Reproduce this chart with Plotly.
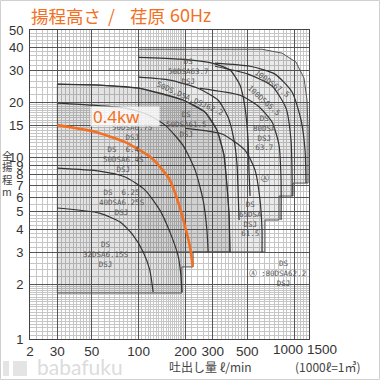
import numpy as np
import plotly.graph_objects as go

# ---------------- axis ticks ----------------
x_tick_vals = [20, 30, 50, 100, 200, 300, 500, 1000]
x_tick_text = ["2", "30", "50", "100", "200", "300", "500", "1000"]
x_extra_label = "1500"
y_tick_vals = [1, 2, 3, 4, 5, 6, 7, 8, 9, 10, 15, 20, 30, 40, 50]
y_tick_text = [str(v) for v in y_tick_vals]
y_title_chars = ["全", "揚", "程", "m"]
title_parts = ["揚程高さ", "/", "荏原", "60Hz"]

# ---------------- highlighted 0.4 kW curve ----------------
kw04_q = [30, 50, 82, 121, 148, 159, 178, 194, 214, 223]
kw04_h = [15, 13.9, 12.1, 9.9, 8.17, 7.47, 5.8, 4.51, 3.21, 2.5]

# ---------------- other pump curves (flow l/min, head m) ----------------
q_32dsa615s = [30, 56, 76, 92, 107, 118, 124]
h_32dsa615s = [5.25, 4.92, 4.40, 3.73, 3.01, 2.39, 1.81]
q_40dsa625 = [30, 56, 82, 110, 137, 159, 179, 187, 190]
h_40dsa625 = [8.7, 8.38, 7.77, 6.59, 5.11, 3.87, 2.89, 2.25, 1.81]
q_50dsa675 = [30, 50, 82, 113, 148, 193, 231, 260, 275, 280]
h_50dsa675 = [19.8, 19.3, 18.6, 17.2, 15.0, 11.6, 8.48, 5.80, 3.97, 3.01]
q_50dsa615 = [30, 56, 102, 193, 267, 319, 354, 370, 382, 387]
h_50dsa615 = [25.2, 24.9, 23.9, 20.6, 17.7, 14.1, 10.3, 7.02, 4.80, 3.01]
q_50ds622 = [100, 159, 241, 324, 376, 411, 430, 436, 443]
h_50ds622 = [27.5, 26.5, 23.9, 20.6, 16.6, 12.4, 9.04, 6.59, 4.51]
q_50dsa637 = [100, 185, 297, 387, 449, 484, 506, 513, 521]
h_50dsa637 = [35.4, 34.6, 32.9, 30.1, 24.9, 18.6, 12.4, 8.48, 6.11]
q_65dsa615 = [199, 344, 484, 561, 604, 622, 622]
h_65dsa615 = [14.4, 13.4, 10.9, 8.48, 5.80, 3.97, 3.01]
q_80dsa637 = [248, 449, 587, 722, 801, 825, 825]
h_80dsa637 = [23.9, 21.9, 19.1, 15.6, 11.6, 7.47, 4.51]
q_100ds655 = [310, 506, 722, 888, 956, 971, 971]
h_100ds655 = [31.6, 28.6, 24.6, 18.6, 12.4, 7.96, 6.11]
q_100ds675 = [310, 521, 754, 971, 1109, 1177, 1194]
h_100ds675 = [32.9, 31.6, 28.6, 22.8, 16.0, 10.9, 7.20]

# ---------------- shaded selection ranges ----------------
upper_range_q = [100, 100, 622, 837, 1030, 1159, 1212, 1230, 1230, 985, 985, 801, 801, 650, 650, 100]
upper_range_h = [3.01, 39.2, 39.2, 37.3, 33.3, 27.2, 20.6, 14.1, 7.20, 7.20, 6.11, 6.11, 4.51, 4.51, 3.01, 3.01]
lower_step_q = [224, 224, 190, 190, 30]
lower_step_h = [3.01, 2.49, 2.49, 1.79, 1.79]
lower_start_h = 1.79

# ---------------- small model labels ----------------
labels_text = ["100DS67.5", "100DS65.5", "50DS,DSA,DSJ62.2",
               "DS<br>50DSA63.7<br>DSJ", "DS<br>50DSA61.5<br>DSJ",
               "DS<br>80DSA<br>DSJ<br>63.7", "DS<br>65DSA<br>DSJ<br>61.5",
               "50DSA6.75<br>DSJ", "DS\u00a0\u00a06.4<br>50DSA6.4S<br>DSJ",
               "DS\u00a0\u00a06.25<br>40DSA6.25S<br>DSJ", "DS<br>32DSA6.15S<br>DSJ",
               "\u24b6", "DS<br>:80DSA62.2<br>DSJ", "\u24b6"]
labels_q = [722, 641, 214, 208, 202, 650, 521, 90.7, 79.4, 78.2, 61.7, 650, 850, 545]
labels_h = [25.5, 20.6, 21.1, 29.7, 15.2, 13.5, 4.56, 13.6, 9.75, 5.66, 2.93, 7.67, 2.28, 2.28]
labels_angle = [36, 42, 24, 0, 0, 0, 0, 0, 0, 0, 0, 0, 0, 0]

kw_label = "0.4kw"
kw_label_q, kw_label_h = 81.7, 16.8

ORANGE = "#f36f21"
CURVE = "#333333"

# pixel layout helpers (figure 380x380, plot area x 30..309, y 30..339)
PL, PW, PB, PH = 30, 279, 339, 309


def px(xp):
    return (xp - PL) / PW


def py(yp):
    return (PB - yp) / PH


def fine_vals(lo, hi):
    m = np.concatenate([np.arange(1.05, 2.0, 0.05), np.arange(2.2, 5.0, 0.2),
                        np.arange(5.5, 10.0, 0.5), [1.0]])
    vals = []
    for e in range(-1, 4):
        vals.extend((m * 10.0 ** e).tolist())
    return sorted(v for v in vals if lo <= v <= hi)


fig = go.Figure()

# shaded ranges
fig.add_trace(go.Scatter(x=upper_range_q, y=upper_range_h, mode="lines", fill="toself",
                         fillcolor="rgba(60,60,60,0.11)", line=dict(color="#555", width=1),
                         hoverinfo="skip"))
lower_q = [30] + q_50dsa615 + lower_step_q
lower_h = [lower_start_h] + h_50dsa615 + lower_step_h
fig.add_trace(go.Scatter(x=lower_q, y=lower_h, mode="lines", fill="toself",
                         fillcolor="rgba(60,60,60,0.14)", line=dict(color="#555", width=1),
                         hoverinfo="skip"))

curves = [(q_32dsa615s, h_32dsa615s), (q_40dsa625, h_40dsa625), (q_50dsa675, h_50dsa675),
          (q_50dsa615, h_50dsa615), (q_50ds622, h_50ds622), (q_50dsa637, h_50dsa637),
          (q_65dsa615, h_65dsa615), (q_80dsa637, h_80dsa637), (q_100ds655, h_100ds655),
          (q_100ds675, h_100ds675)]
for q, h in curves:
    fig.add_trace(go.Scatter(x=q, y=h, mode="lines",
                             line=dict(color=CURVE, width=1.2, shape="spline", smoothing=0.6),
                             hoverinfo="skip"))

fig.add_trace(go.Scatter(x=kw04_q, y=kw04_h, mode="lines",
                         line=dict(color=ORANGE, width=2.6, shape="spline", smoothing=0.6),
                         hoverinfo="skip"))

# annotations
ann = []
for t, q, h, a in zip(labels_text, labels_q, labels_h, labels_angle):
    ann.append(dict(x=np.log10(q), y=np.log10(h), xref="x", yref="y", text=t, showarrow=False,
                    textangle=a, font=dict(family="DejaVu Sans Mono", size=7.5, color="#555")))
ann.append(dict(x=np.log10(kw_label_q), y=np.log10(kw_label_h), xref="x", yref="y", text=kw_label,
                showarrow=False, width=64, height=15, borderpad=2, align="left",
                bgcolor="rgba(255,255,255,0.8)",
                font=dict(family="Noto Sans", size=17, color=ORANGE)))

# title pieces
title_x = [29, 111, 128, 168]
title_anchor = ["left", "center", "left", "left"]
title_font = ["Noto Sans CJK JP", "Noto Sans CJK JP", "Noto Sans CJK JP", "Noto Sans"]
for t, xp, xa, ff in zip(title_parts, title_x, title_anchor, title_font):
    ann.append(dict(x=px(xp), y=py(15), xref="paper", yref="paper", xanchor=xa, yanchor="middle",
                    text=t, showarrow=False, font=dict(family=ff, size=17.5, color=ORANGE)))

# vertical y-axis title
for ch, yp in zip(y_title_chars, [155, 167, 179, 191]):
    ann.append(dict(x=px(7), y=py(yp), xref="paper", yref="paper", xanchor="center", yanchor="middle",
                    text=ch, showarrow=False,
                    font=dict(family="Noto Sans CJK JP", size=10.5, color="#444")))

ann.append(dict(x=px(210), y=py(366), xref="paper", yref="paper", xanchor="center", yanchor="middle",
                text="吐出し量 ℓ/min",
                showarrow=False, font=dict(family="Noto Sans CJK JP", size=12, color="#444")))
ann.append(dict(x=px(328), y=py(366), xref="paper", yref="paper", xanchor="center", yanchor="middle",
                text="(1000ℓ=1㎥)",
                showarrow=False, font=dict(family="Noto Sans CJK JP", size=12, color="#444")))
ann.append(dict(x=np.log10(x_tick_vals[-1]), y=0, xref="x", yref="paper", xanchor="center",
                yanchor="top", yshift=-1,
                xshift=-6, text=x_tick_text[-1], showarrow=False,
                font=dict(family="Liberation Sans", size=13.5, color="#333")))
ann.append(dict(x=px(322), y=0, xref="paper", yref="paper", xanchor="center", yanchor="top", yshift=-1,
                text=x_extra_label, showarrow=False,
                font=dict(family="Liberation Sans", size=13.5, color="#333")))
ann.append(dict(x=px(80), y=py(366), xref="paper", yref="paper", xanchor="center", yanchor="middle",
                text="babafuku", showarrow=False,
                font=dict(family="Lato", size=21, color="#dcdcdc")))

shapes = [
    dict(type="rect", xref="paper", yref="paper", x0=px(0.5), x1=px(379.5), y0=py(379.5), y1=py(0.5),
         line=dict(color="#d0d0d0", width=1), fillcolor="rgba(0,0,0,0)"),
    dict(type="rect", xref="paper", yref="paper", x0=px(3), x1=px(27), y0=py(376), y1=py(361),
         line=dict(width=0), fillcolor="#e4e4e4"),
    dict(type="rect", xref="paper", yref="paper", x0=px(9), x1=px(13), y0=py(376), y1=py(361),
         line=dict(width=0), fillcolor="#ffffff"),
]

xr = [np.log10(20), np.log10(1248)]
yr = [0, np.log10(50)]

fig.update_layout(
    width=380, height=380, margin=dict(l=30, r=71, t=30, b=41, autoexpand=False),
    paper_bgcolor="white", plot_bgcolor="white", showlegend=False,
    annotations=ann, shapes=shapes,
    xaxis=dict(type="log", range=xr, tickvals=x_tick_vals, ticktext=x_tick_text[:-1] + [""],
               automargin=False,
               showgrid=True, gridcolor="#555", gridwidth=1,
               minor=dict(tickvals=fine_vals(20, 1248), showgrid=True, gridcolor="#c6c6c6",
                          gridwidth=1, ticks=""),
               ticks="",
               showline=True, mirror=True, linecolor="#444", linewidth=1, zeroline=False,
               tickfont=dict(family="Liberation Sans", size=13.5, color="#333")),
    yaxis=dict(type="log", range=yr, tickvals=y_tick_vals, ticktext=y_tick_text,
               automargin=False,
               showgrid=True, gridcolor="#555", gridwidth=1,
               minor=dict(tickvals=fine_vals(1, 50), showgrid=True, gridcolor="#c6c6c6",
                          gridwidth=1, ticks=""),
               ticks="outside", ticklen=3, tickcolor="rgba(0,0,0,0)",
               showline=True, mirror=True, linecolor="#444", linewidth=1, zeroline=False,
               tickfont=dict(family="Liberation Sans", size=13, color="#333")),
)

fig.write_html("out.html", config={"displayModeBar": False},
               post_script="document.body.style.margin='0';document.body.style.padding='0';")
